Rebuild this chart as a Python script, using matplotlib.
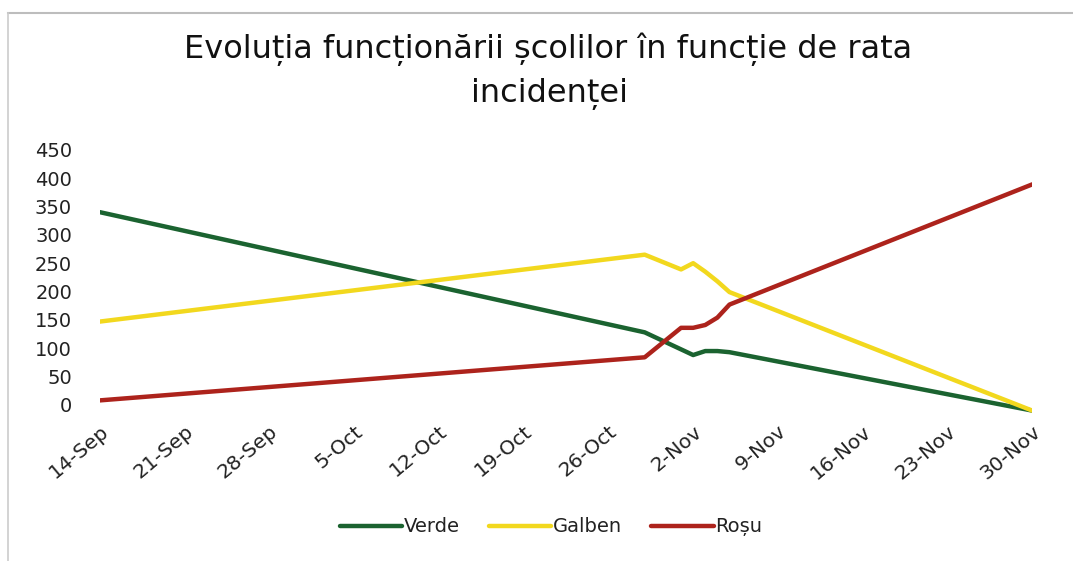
import matplotlib
matplotlib.use("Agg")
import matplotlib.pyplot as plt
import matplotlib.lines as mlines
import pandas as pd

# ---- data ----
verde_dates = ["2020-09-14", "2020-10-29", "2020-11-02", "2020-11-03", "2020-11-04", "2020-11-05", "2020-11-30"]
verde_vals = [340, 128, 88, 95, 95, 93, -10]

galben_dates = ["2020-09-14", "2020-10-29", "2020-11-01", "2020-11-02", "2020-11-03", "2020-11-04", "2020-11-05", "2020-11-30"]
galben_vals = [147, 265, 239, 250, 235, 218, 199, -10]

rosu_dates = ["2020-09-14", "2020-10-29", "2020-11-01", "2020-11-02", "2020-11-03", "2020-11-04", "2020-11-05", "2020-11-30"]
rosu_vals = [8, 84, 136, 136, 141, 154, 177, 389]

tick_dates = pd.date_range("2020-09-14", "2020-11-30", freq="7D")
tick_labels = ["14-Sep", "21-Sep", "28-Sep", "5-Oct", "12-Oct", "19-Oct", "26-Oct",
               "2-Nov", "9-Nov", "16-Nov", "23-Nov", "30-Nov"]
y_ticks = [0, 50, 100, 150, 200, 250, 300, 350, 400, 450]

title_line1 = "Evoluția funcționării școlilor în funcție de rata"
title_line2 = "incidenței"

plt.rcParams['font.family'] = ['DejaVu Sans']

W, H = 1073, 561
fig = plt.figure(figsize=(W / 100, H / 100), dpi=100)
ax = fig.add_axes([0.093, 0.258, 0.869, 0.475])

ax.plot(pd.to_datetime(verde_dates), verde_vals, color="#1b6330", lw=3.2, label="Verde",
        solid_joinstyle="round", solid_capstyle="round")
ax.plot(pd.to_datetime(galben_dates), galben_vals, color="#f2d81e", lw=3.2, label="Galben",
        solid_joinstyle="round", solid_capstyle="round")
ax.plot(pd.to_datetime(rosu_dates), rosu_vals, color="#ad231c", lw=3.2, label="Roșu",
        solid_joinstyle="round", solid_capstyle="round")

ax.set_xlim(pd.Timestamp("2020-09-14"), pd.Timestamp("2020-11-30"))
ax.set_ylim(-20, 450)
ax.set_yticks(y_ticks)
ax.set_xticks(tick_dates)
ax.set_xticklabels(tick_labels, rotation=40, ha="right", va="top", rotation_mode="anchor",
                   fontsize=14.5, color="#222222")
ax.tick_params(axis="y", labelsize=14, labelcolor="#222222", length=0, pad=20)
ax.tick_params(axis="x", length=0, pad=4)
for s in ax.spines.values():
    s.set_visible(False)

fig.text(548 / W, 1 - 58 / H, title_line1, ha="center", va="baseline", fontsize=23, color="#111111")
fig.text(550 / W, 1 - 102 / H, title_line2, ha="center", va="baseline", fontsize=23, color="#111111")

# faint chart frame (top and left edges)
fig.add_artist(mlines.Line2D([8 / W, 1.0], [1 - 13 / H, 1 - 13 / H], color="#bdbdbd", lw=1.5))
fig.add_artist(mlines.Line2D([8 / W, 8 / W], [0.0, 1 - 13 / H], color="#cccccc", lw=1.2))

fig.legend(loc="center", bbox_to_anchor=(551 / W, 1 - 527 / H), ncol=3, frameon=False,
           fontsize=14, handlelength=3.2, columnspacing=1.5, handletextpad=0.1,
           labelcolor="#222222")

plt.savefig("out.png", dpi=100)
